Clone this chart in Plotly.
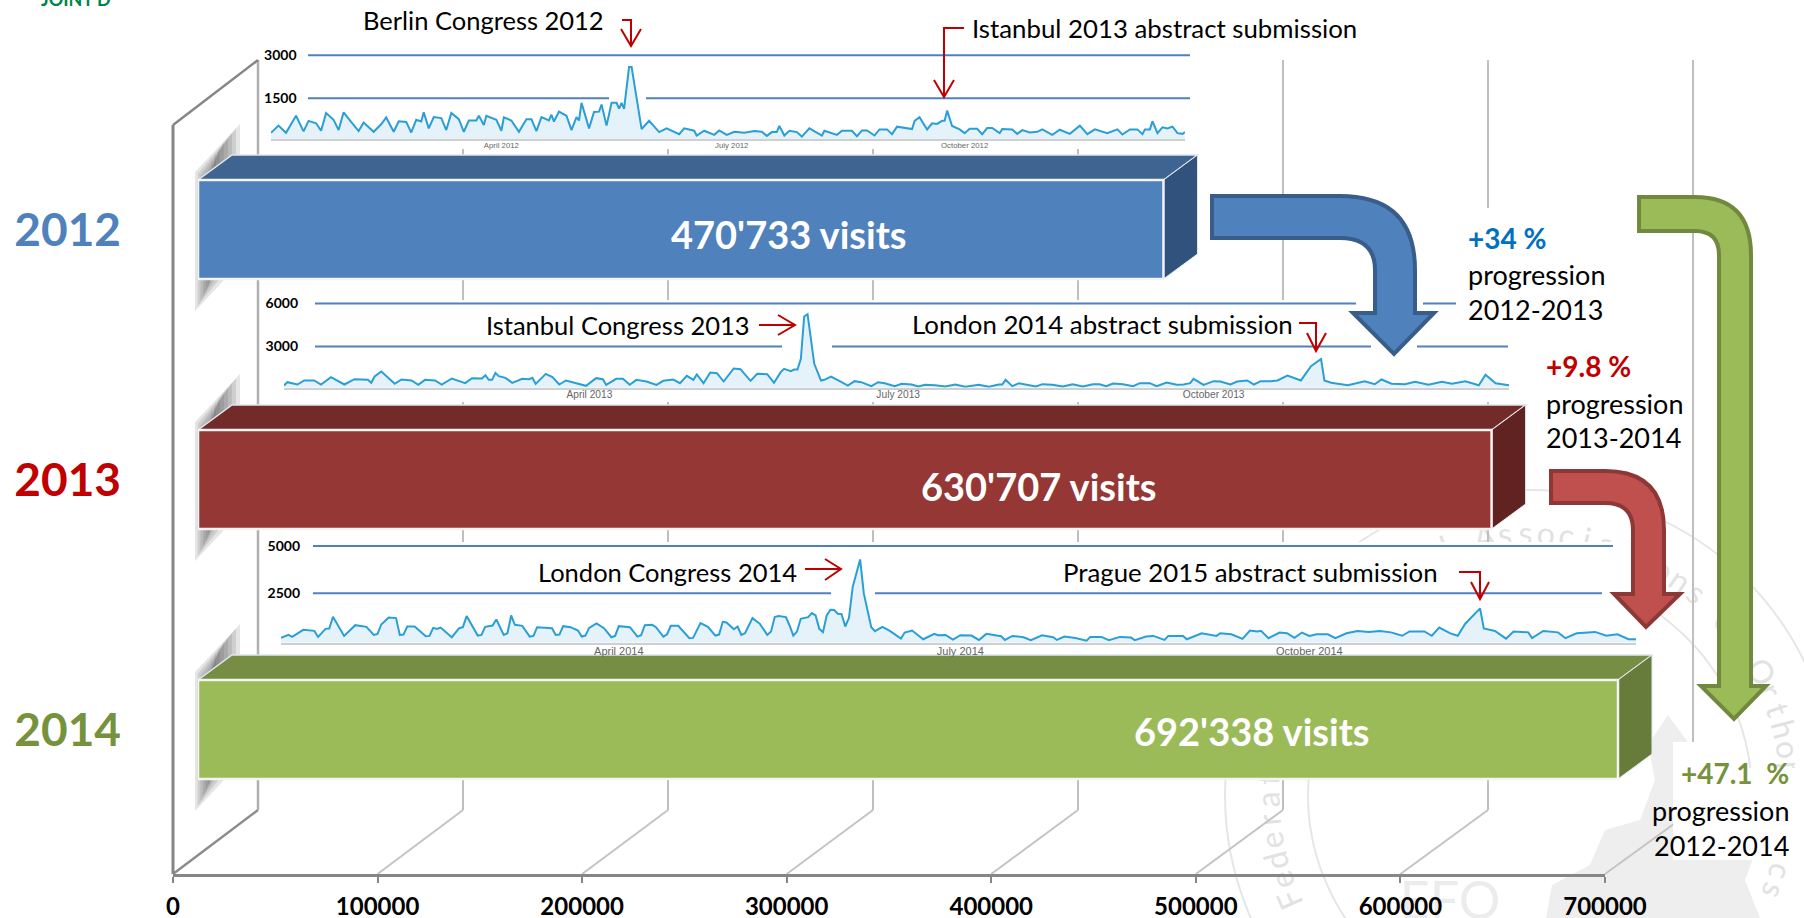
import math
import pandas as pd
import plotly.graph_objects as go

W, H = 1804, 918

# ---------- data ----------
YEARS = ["2012", "2013", "2014"]
VISITS = [470733, 630707, 692338]
X_TICKS = [0, 100000, 200000, 300000, 400000, 500000, 600000, 700000]
YEAR_COLORS = ["#4f81bd", "#c00000", "#76923c"]

days_2012 = [0,3,6,8,10,13,15,18,20,22,25,27,29,32,35,37,41,44,46,49,51,54,56,58,60,61,63,65,68,70,72,75,77,79,82,83,85,86,90,92,93,96,99,102,104,106,108,111,112,113,115,118,120,122,123,124,127,129,131,132,134,136,138,139,140,141,143,144,148,151,155,158,163,165,169,170,173,177,179,
 182,185,189,193,196,198,200,202,203,205,207,210,212,215,220,221,226,228,232,234,236,238,241,243,246,248,250,253,256,257,259,262,264,266,268,269,270,272,275,277,279,282,284,286,288,291,292,296,298,300,303,306,308,312,315,319,323,326,329,334,338,340,343,346,348,349,351,352,354,356,358,360,362,364,365]
visits_2012 = [296,546,296,570,891,344,713,629,368,986,748,391,1010,677,356,653,332,594,832,332,701,677,308,748,689,1010,451,843,808,391,986,772,332,725,725,891,570,891,748,368,832,725,332,772,772,356,843,725,927,689,1034,891,391,843,725,1343,451,1022,1034,1284,546,1343,1343,1141,1343,1129,2593,2593,427,713,320,451,249,451,368,201,368,225,379,
 225,332,296,356,332,189,320,320,534,201,368,320,165,451,201,368,225,368,368,177,379,379,201,415,415,249,510,475,427,713,843,415,629,605,713,713,1070,534,415,284,439,439,249,463,463,284,427,415,260,391,308,332,415,225,403,260,546,249,415,284,415,237,415,415,249,415,415,701,284,487,451,510,284,260,320]

days_2013 = [0,1,4,6,9,11,14,18,21,25,26,27,29,33,35,38,40,42,45,47,50,54,56,59,60,61,62,63,64,66,68,71,73,74,75,78,80,82,84,87,90,93,95,96,99,101,103,105,108,111,113,116,118,120,122,123,125,127,129,131,134,136,139,141,144,146,148,
 149,151,152,153,154,155,156,158,160,161,163,165,166,168,170,172,175,177,179,182,184,187,189,191,194,197,200,203,207,210,213,214,215,217,219,224,226,229,232,235,238,241,243,245,247,250,253,255,258,260,263,266,268,270,271,274,277,279,282,284,287,289,291,294,
 296,299,303,306,309,310,312,317,322,325,327,330,334,337,341,345,348,352,356,358,361,365]
visits_2013 = [279,512,349,628,628,349,861,349,721,675,465,907,1256,395,698,628,326,675,628,349,768,442,791,768,1000,675,675,1163,930,814,465,744,721,814,395,1093,861,349,628,465,256,791,721,326,744,744,326,675,558,326,605,698,442,954,675,1047,442,1186,1140,558,1465,1419,605,1093,1070,465,1210,
 1442,1279,1396,1396,2140,5094,5257,1791,628,675,907,628,535,279,582,512,233,512,442,233,395,349,209,326,302,209,349,186,326,186,349,349,675,233,442,209,372,326,209,372,209,372,372,233,419,372,233,442,442,233,488,326,349,442,744,326,582,558,349,558,628,349,582,582,
 633,966,633,1630,2129,633,467,300,567,367,700,400,367,533,333,533,400,567,300,1033,433,300]

days_2014 = [0,2,3,6,9,10,12,13,14,17,20,23,25,26,27,29,31,32,33,34,36,39,40,41,42,43,46,48,49,50,53,54,55,57,58,60,61,62,63,65,67,68,69,73,74,75,76,78,80,81,82,83,85,87,89,90,91,94,96,97,98,100,101,103,104,105,107,110,111,113,115,117,118,119,120,122,123,124,125,127,129,131,132,133,134,136,137,138,
 139,140,142,143,144,145,146,147,148,149,150,151,152,153,154,156,157,159,160,162,164,167,168,170,173,176,177,179,181,183,186,188,190,193,194,195,197,200,202,205,208,209,211,214,217,218,221,223,226,229,230,233,235,238,239,243,244,248,252,253,256,259,261,263,264,266,269,271,273,275,277,
 279,282,284,287,290,293,296,299,302,304,308,310,312,315,317,319,323,324,327,330,332,336,337,340,344,346,349,354,357,360,363,365]
visits_2014 = [142,301,195,567,514,195,621,638,1259,248,816,727,301,355,851,1223,1188,301,319,745,745,230,248,674,621,691,177,656,709,1294,266,301,727,798,1117,301,390,1330,833,780,213,248,709,656,301,319,762,709,532,213,266,674,904,656,177,248,762,709,213,284,816,833,709,213,337,780,780,124,142,922,727,266,319,993,957,603,745,301,390,1188,887,301,479,1241,1294,1241,798,266,
 479,1152,1241,1454,1330,621,443,1330,1631,1613,1418,1401,745,1206,2837,4291,2482,709,496,727,514,106,426,532,71,355,284,301,53,284,266,35,355,248,230,35,248,177,18,284,177,35,213,142,0,195,195,18,195,160,18,213,248,35,248,248,71,390,248,390,337,89,532,479,514,124,426,390,142,426,248,
 333,333,127,384,511,460,511,435,257,485,485,257,688,384,257,891,1703,638,511,101,485,435,127,511,435,127,384,460,257,333,76,76]

# ---------- helpers ----------
def X(p): return p / W
def Y(p): return 1 - p / H

def path(cmds):
    out = []
    for c in cmds:
        k = c[0]; v = c[1:]
        if k == "Z":
            out.append("Z"); continue
        coords = []
        for i in range(0, len(v), 2):
            coords += [f"{X(v[i]):.5f}", f"{Y(v[i+1]):.5f}"]
        out.append(k + " " + " ".join(coords))
    return " ".join(out)

def poly(pts, close=True):
    c = [("M",) + tuple(pts[0])] + [("L",) + tuple(p) for p in pts[1:]]
    if close:
        c.append(("Z",))
    return path(c)

shapes = []
def add_path(d, fill="rgba(0,0,0,0)", line="rgba(0,0,0,0)", width=0, layer="below", opacity=1, join=None):
    shapes.append(dict(type="path", path=d, xref="paper", yref="paper", fillcolor=fill,
                       line=dict(color=line, width=width), layer=layer, opacity=opacity))

def add_line(x0, y0, x1, y1, color, width, layer="below"):
    shapes.append(dict(type="line", xref="paper", yref="paper", x0=X(x0), y0=Y(y0), x1=X(x1), y1=Y(y1),
                       line=dict(color=color, width=width), layer=layer))

def add_rect(x0, y0, x1, y1, fill="#ffffff"):
    shapes.append(dict(type="rect", xref="paper", yref="paper", x0=X(x0), y0=Y(y0), x1=X(x1), y1=Y(y1),
                       fillcolor=fill, line=dict(width=0), layer="below"))

annotations = []
def add_text(x, y, text, size=25.5, color="#000000", anchor="left", bold=False):
    annotations.append(dict(xref="paper", yref="paper", x=X(x), y=Y(y), text=f"<b>{text}</b>" if bold else text,
                            showarrow=False, xanchor=anchor, yanchor="middle",
                            font=dict(family="Lato", size=size, color=color), borderpad=0))

AX0, AX1, AX_Y = 173, 1605, 874           # value axis pixels
SCALE = (AX1 - AX0) / 700000
BACK0, BACK_SCALE, BACK_Y = 258, 0.00205, 810   # rear plane of the 3-D frame
WALL_TOP_FRONT, WALL_TOP_BACK = 125, 60
BAR0, BAR_SCALE = 198, 0.002051           # front face of the bars
def ax_px(v): return AX0 + v * SCALE
def back_px(v): return BACK0 + v * BACK_SCALE
def bar_px(v): return BAR0 + v * BAR_SCALE
BAR_TOPS = [180, 430, 680]
BAR_H = 99
FACE_DX, FACE_DY = 34, 25

# ---------- watermark ----------
WC = (1530, 795)
for R, wd in ((305, 2), (222, 2)):
    shapes.append(dict(type="circle", xref="paper", yref="paper", x0=X(WC[0]-R), x1=X(WC[0]+R),
                       y0=Y(WC[1]+R), y1=Y(WC[1]-R), line=dict(color="#e6e6e6", width=wd),
                       fillcolor="rgba(0,0,0,0)", layer="below"))
add_path(poly([(1546,918),(1552,885),(1590,865),(1605,830),(1640,820),(1655,780),(1648,745),(1668,715),(1690,745),
               (1705,775),(1745,800),(1760,840),(1745,880),(1760,918)]), fill="#eeeeee")
SEAL = "European Federation of National Associations of Orthopaedics and Traumatology"
R_TXT, SEAL_START, SEAL_STEP = 263, -154, 4.5
for i, ch in enumerate(SEAL):
    if ch == " ":
        continue
    a = math.radians(SEAL_START + i * SEAL_STEP)
    cx = WC[0] + R_TXT * math.sin(a)
    cy = WC[1] - R_TXT * math.cos(a)
    if cy > H - 8:
        continue
    shapes.append(dict(type="rect", xref="paper", yref="paper", x0=X(cx-15), x1=X(cx+15), y0=Y(cy+15), y1=Y(cy-15),
                       line=dict(width=0), fillcolor="rgba(0,0,0,0)", layer="below",
                       label=dict(text=ch, textposition="middle center",
                                  textangle=SEAL_START + i * SEAL_STEP,
                                  font=dict(family="Lato", size=32, color="#e2e2e2"))))
shapes.append(dict(type="rect", xref="paper", yref="paper", x0=X(1360), x1=X(1540), y0=Y(918), y1=Y(878),
                   line=dict(width=0), fillcolor="rgba(0,0,0,0)", layer="below",
                   label=dict(text="EFO", textposition="middle center", textangle=0,
                              font=dict(family="Lato", size=52, color="#ececec"))))

# ---------- 3-D walls and grid ----------
for v in X_TICKS[1:]:
    add_line(ax_px(v), AX_Y, back_px(v), BACK_Y, "#c4c4c4", 2)
    add_line(back_px(v), BACK_Y, back_px(v), WALL_TOP_BACK, "#bfbfbf", 2)
add_line(ax_px(0), AX_Y, back_px(0), BACK_Y, "#8c8c8c", 2.5)
add_line(back_px(0), BACK_Y, back_px(0), WALL_TOP_BACK, "#b0b0b0", 2.5)
add_line(ax_px(0), AX_Y, ax_px(0), WALL_TOP_FRONT, "#868686", 3)
add_line(ax_px(0), WALL_TOP_FRONT, back_px(0), WALL_TOP_BACK, "#868686", 2.5)

# bar shadows on the side wall
for top in BAR_TOPS:
    for i in range(8):
        inset = i * 4.5
        add_path(poly([(195 + inset*0.6, top - 8 + inset*0.4), (240 - inset*0.9, top - 56 + inset),
                       (240 - inset*0.9, top + BAR_H - 16 - inset), (195 + inset*0.6, top + BAR_H + 32 - inset*1.1)]),
                 fill="rgba(70,70,70,0.14)")

# panels behind the spark charts and labels
add_rect(262, 45, 1192, 149)
add_rect(262, 300, 1510, 402)
add_rect(275, 542, 1644, 655)
add_rect(1440, 208, 1620, 300)
add_rect(1673, 742, 1745, 860)
add_rect(1745, 768, 1804, 860)

# ---------- bars: side and top faces ----------
TOPF = ["#3f6491", "#722b29", "#768d44"]
SIDEF = ["#31527c", "#612322", "#677c3a"]
for v, top, tc, sc in zip(VISITS, BAR_TOPS, TOPF, SIDEF):
    r = bar_px(v)
    add_path(poly([(BAR0, top), (BAR0 + FACE_DX, top - FACE_DY), (r + FACE_DX, top - FACE_DY), (r, top)]),
             fill=tc, line="#dfe6ee", width=1.5)
    add_path(poly([(r, top), (r + FACE_DX, top - FACE_DY), (r + FACE_DX, top + BAR_H - FACE_DY), (r, top + BAR_H)]),
             fill=sc, line="#dfe6ee", width=1)

# ---------- traces ----------
fig = go.Figure()
# main value axis
fig.add_trace(go.Scatter(x=[0, 700000], y=[0, 1], mode="none", xaxis="x", yaxis="y", hoverinfo="skip"))
# bar fronts
fig.add_trace(go.Bar(y=YEARS, x=VISITS, orientation="h", marker=dict(color=["#4f81bd", "#953735", "#9bbb59"],
              line=dict(color="#f4f4f4", width=2.5)), xaxis="x2", yaxis="y2", hoverinfo="skip"))

layout = dict(
    template="none", width=W, height=H, margin=dict(l=0, r=0, t=0, b=0, pad=0, autoexpand=False), autosize=False, showlegend=False,
    paper_bgcolor="#ffffff", plot_bgcolor="rgba(0,0,0,0)", bargap=0.604,
    xaxis=dict(domain=[X(AX0), X(AX1)], range=[0, 700000], tickvals=X_TICKS, ticktext=[str(t) for t in X_TICKS],
               showline=True, linecolor="#868686", linewidth=3, ticks="outside", ticklen=6, tickwidth=2, tickcolor="#868686",
               showgrid=False, zeroline=False, tickfont=dict(family="Lato", size=24, color="#000000", weight=700),
               ticklabelstandoff=3, anchor="y", automargin=False, fixedrange=True),
    yaxis=dict(domain=[1 - AX_Y / H, 1], range=[0, 1], visible=False, automargin=False, fixedrange=True),
    xaxis2=dict(domain=[X(BAR0), X(bar_px(700000))], range=[0, 700000], visible=False, anchor="y2", automargin=False, fixedrange=True),
    yaxis2=dict(domain=[Y(854.5), Y(104.5)], type="category", categoryorder="array", categoryarray=YEARS[::-1],
                range=[-0.5, 2.5], anchor="free", position=X(121), showline=False, showgrid=False, zeroline=False, ticks="",
                tickvals=YEARS, ticktext=[f'<span style="color:{c}">{y}</span>' for y, c in zip(YEARS, YEAR_COLORS)],
                tickfont=dict(family="Lato", size=46, weight=700), automargin=False, fixedrange=True),
)

SPARKS = [
    dict(year=2012, days=days_2012, vals=visits_2012, x0=271, x1=1185, top=45, floor_px=139, rng=[80, 3359], ticks=[1500, 3000],
         ypos=296.5, lab=7.8, stand=-2, mdays=("04-02", "07-03", "10-04"),
         segs={3000: [(308, 1190)], 1500: [(308, 609), (646, 1190)]}),
    dict(year=2013, days=days_2013, vals=visits_2013, x0=284, x1=1509, top=295, floor_px=387.7, rng=[126, 6593], ticks=[3000, 6000],
         ypos=298, lab=10.2, stand=-4, mdays=("04-02", "07-03", "10-05"),
         segs={6000: [(315, 1356), (1423, 1456)], 3000: [(315, 782), (832, 1371), (1417, 1508)]}),
    dict(year=2014, days=days_2014, vals=visits_2014, x0=281, x1=1636, top=535, floor_px=642.7, rng=[-111, 5581], ticks=[2500, 5000],
         ypos=300, lab=11, stand=-3, mdays=("04-02", "07-03", "10-05"),
         segs={5000: [(313, 1613)], 2500: [(313, 831), (875, 1602)]}),
]
for i, s in enumerate(SPARKS):
    n = i + 3
    assert len(s["days"]) == len(s["vals"]), (s["year"], len(s["days"]), len(s["vals"]))
    start = pd.Timestamp(f'{s["year"]}-01-01')
    dates = [start + pd.Timedelta(days=d) for d in s["days"]]
    xa, ya = f"x{n}", f"y{n}"
    floor = s["rng"][0]
    fig.add_trace(go.Scatter(x=[dates[0], dates[-1]], y=[floor, floor], mode="lines", line=dict(width=0),
                             xaxis=xa, yaxis=ya, hoverinfo="skip"))
    fig.add_trace(go.Scatter(x=dates, y=s["vals"], mode="lines", line=dict(color="#2a9fd6", width=2),
                             fill="tonexty", fillcolor="#e5f2f9", xaxis=xa, yaxis=ya, hoverinfo="skip"))
    layout[f"xaxis{n}"] = dict(domain=[X(s["x0"]), X(s["x1"])], range=[start, start + pd.Timedelta(days=365)], type="date",
                               anchor=ya, tickvals=[pd.Timestamp(f'{s["year"]}-{m}') for m in s["mdays"]],
                               ticktext=[f'{nm} {s["year"]}' for nm in ("April", "July", "October")],
                               showline=True, linecolor="#cfcfcf", linewidth=2, ticks="", showgrid=False, zeroline=False,
                               ticklabelstandoff=s["stand"],
                               tickfont=dict(family="Liberation Sans", size=s["lab"], color="#666666"), automargin=False, fixedrange=True)
    layout[f"yaxis{n}"] = dict(domain=[Y(s["floor_px"]), Y(s["top"])], range=s["rng"], anchor="free", position=X(s["ypos"]),
                               tickvals=s["ticks"], ticktext=[str(t) for t in s["ticks"]], showgrid=False, zeroline=False,
                               showline=False, ticks="", tickfont=dict(family="Lato", size=14, color="#000000", weight=700),
                               automargin=False, fixedrange=True)
    for val, parts in s["segs"].items():
        for a, b in parts:
            shapes.append(dict(type="line", xref="paper", yref=ya, x0=X(a), x1=X(b), y0=val, y1=val,
                               line=dict(color="#4f81bd", width=2), layer="below"))

# ---------- bent arrows ----------
add_path(path([("M",1212,196),("L",1340,196),("Q",1415,196,1415,270),("L",1415,313),("L",1434,313),("L",1394,354),("L",1353,313),
               ("L",1375,313),("L",1375,270),("Q",1375,238,1340,238),("L",1212,238),("Z",)]),
         fill="#4f81bd", line="#385d8a", width=4, layer="above")
add_path(path([("M",1551,471),("L",1605,471),("Q",1664,471,1664,530),("L",1664,594),("L",1680,594),("L",1646,627),("L",1614,594),
               ("L",1633,594),("L",1633,530),("Q",1633,503,1605,503),("L",1551,503),("Z",)]),
         fill="#c0504d", line="#8c3836", width=4, layer="above")
add_path(path([("M",1639,197),("L",1695,197),("Q",1751,197,1751,255),("L",1751,686),("L",1766,686),("L",1734,719),("L",1701,686),
               ("L",1719,686),("L",1719,255),("Q",1719,231,1695,231),("L",1639,231),("Z",)]),
         fill="#9bbb59", line="#71893f", width=4, layer="above")

# ---------- red pointers ----------
RED = "#c00000"
pointers = [
    ([(622,20),(631,20),(631,46)], [(621,29),(631,46),(641,29)]),
    ([(964,28),(944,28),(944,97)], [(934,80),(944,97),(954,80)]),
    ([(759,325),(795,325)], [(778,315),(795,325),(778,335)]),
    ([(1299,323),(1316,323),(1316,351)], [(1307,333),(1316,351),(1326,333)]),
    ([(805,569),(841,569)], [(825,559),(841,569),(825,580)]),
    ([(1459,572),(1480,572),(1480,599)], [(1471,582),(1480,599),(1489,582)]),
]
for stem, head in pointers:
    add_path(poly(stem, close=False), line=RED, width=2, layer="above")
    add_path(poly(head, close=False), line=RED, width=2, layer="above")

# ---------- text ----------
add_text(362, 20, "Berlin Congress 2012")
add_text(971, 28, "Istanbul 2013 abstract submission", size=25.8)
add_text(485, 325, "Istanbul Congress 2013")
add_text(911, 324, "London 2014 abstract submission", size=25.8)
add_text(537, 572, "London Congress 2014")
add_text(1062, 572, "Prague 2015 abstract submission", size=25.8)

for v, cx, cy in zip(VISITS, (789, 1039, 1252), (233.5, 485.5, 730.5)):
    add_text(cx, cy, f"{v:,}".replace(",", "'") + " visits", size=38, color="#ffffff", anchor="center", bold=True)

add_text(1467, 238, "+34 %", size=28, color="#0070c0", bold=True)
add_text(1467, 274, "progression", size=27)
add_text(1467, 309, "2012-2013", size=27)
add_text(1545, 366, "+9.8 %", size=28, color="#c00000", bold=True)
add_text(1545, 403, "progression", size=27)
add_text(1545, 437, "2013-2014", size=27)
add_text(1790, 773, "+47.1&nbsp;&nbsp;%", size=28, color="#76923c", anchor="right", bold=True)
add_text(1790, 810, "progression", size=27, anchor="right")
add_text(1790, 845, "2012-2014", size=27, anchor="right")
add_text(40, -1, "JOINT D", size=18, color="#00844a", bold=True)

fig.update_layout(**layout, shapes=shapes, annotations=annotations)

fig.write_html("out.html", config=dict(displayModeBar=False),
               post_script="document.body.style.margin='0';document.body.style.overflow='hidden';")
